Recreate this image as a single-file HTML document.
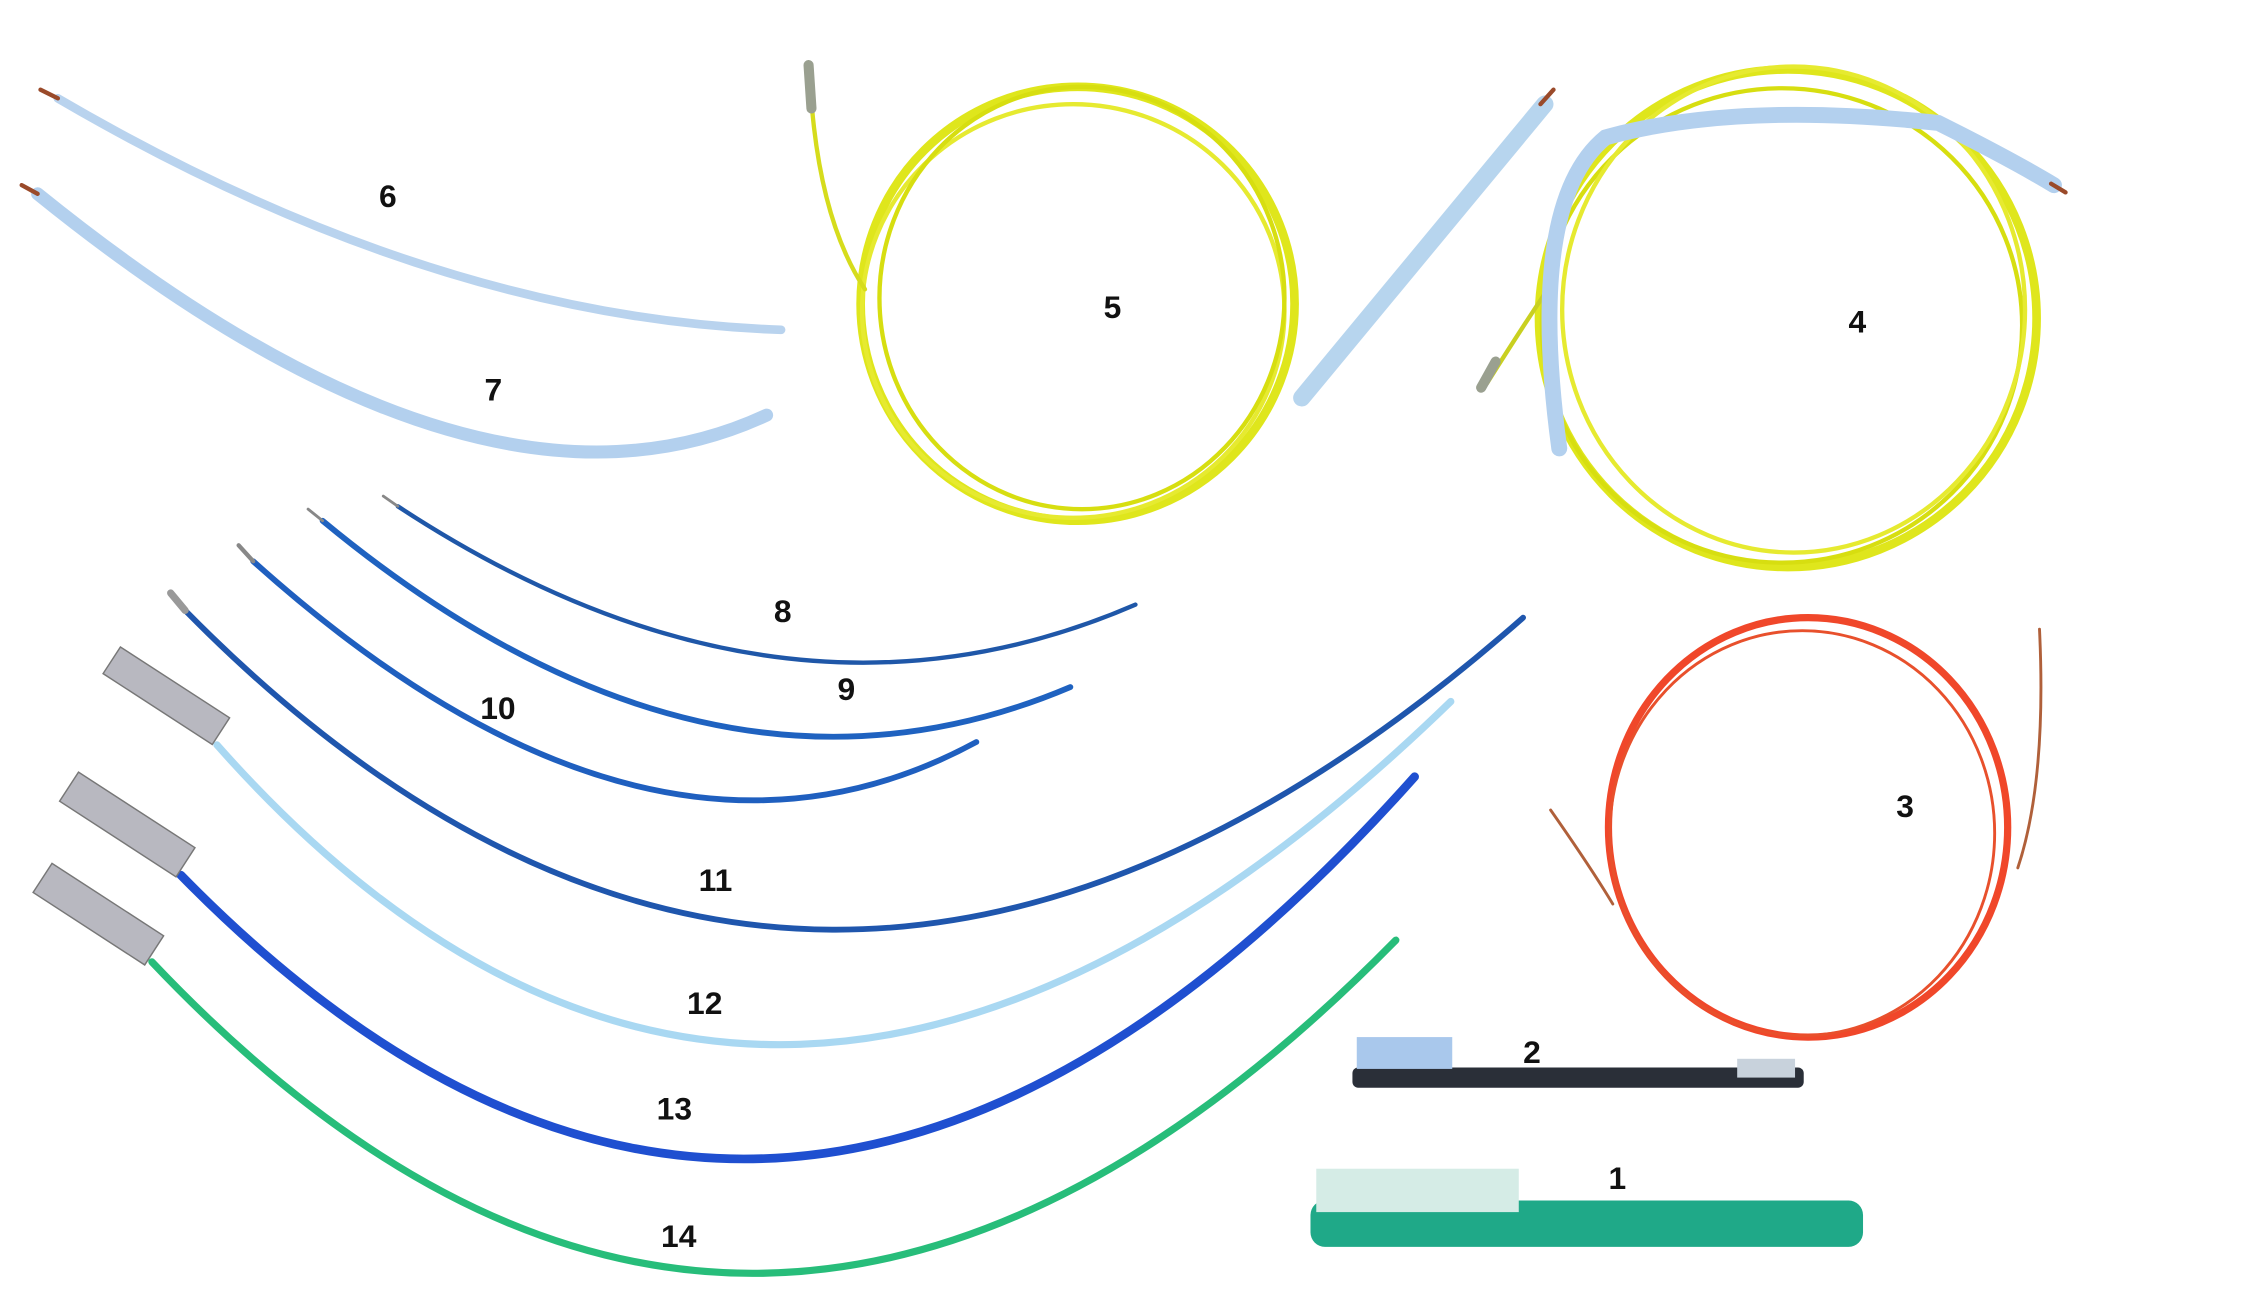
<!DOCTYPE html>
<html><head><meta charset="utf-8"><style>
html,body{margin:0;padding:0;background:#fff;}
svg{display:block;}
text{font-family:"Liberation Sans",sans-serif;font-weight:bold;font-size:22px;fill:#111;}
</style></head><body>
<svg width="2242" height="1296" viewBox="0 0 1550 896" preserveAspectRatio="none" xmlns="http://www.w3.org/2000/svg">
<rect width="1550" height="896" fill="#fff"/>
<g fill="none" stroke-linecap="round">
<!-- 6 & 7 -->
<path d="M40,68 Q300,220 540,228" stroke="#b9d3ee" stroke-width="6"/>
<path d="M28,62 L40,68" stroke="#9a4a2a" stroke-width="3"/>
<path d="M26,134 Q330,380 530,287" stroke="#b3d0ee" stroke-width="9"/>
<path d="M15,128 L26,134" stroke="#9a4a2a" stroke-width="3"/>
<!-- 5 -->
<ellipse cx="745" cy="210" rx="150" ry="150" stroke="#dfe61c" stroke-width="6"/>
<ellipse cx="742" cy="215" rx="146" ry="143" stroke="#e6ea30" stroke-width="3"/>
<ellipse cx="748" cy="206" rx="140" ry="146" stroke="#d7de10" stroke-width="3"/>
<path d="M560,55 Q565,150 598,200" stroke="#d6dc1c" stroke-width="3"/>
<path d="M559,45 L561,75" stroke="#9aa090" stroke-width="7"/>
<path d="M900,275 L1068,72" stroke="#b7d5ee" stroke-width="12"/>
<path d="M1065,72 L1074,62" stroke="#9a4a2a" stroke-width="3"/>
<!-- 4 -->
<ellipse cx="1236" cy="220" rx="172" ry="172" stroke="#dfe61c" stroke-width="6"/>
<ellipse cx="1232" cy="225" rx="166" ry="164" stroke="#d7de10" stroke-width="3"/>
<ellipse cx="1240" cy="214" rx="160" ry="168" stroke="#e6ea30" stroke-width="3"/>
<path d="M1028,265 Q1050,230 1070,200" stroke="#c9d020" stroke-width="3"/>
<path d="M1024,268 L1034,250" stroke="#9aa090" stroke-width="7"/>
<path d="M1078,310 Q1055,140 1110,95 Q1200,70 1340,85 Q1390,110 1420,128" stroke="#b3d0ee" stroke-width="11"/>
<path d="M1418,127 L1428,133" stroke="#9a4a2a" stroke-width="3"/>
<!-- 3 -->
<ellipse cx="1250" cy="572" rx="138" ry="145" stroke="#f0472a" stroke-width="5"/>
<ellipse cx="1246" cy="576" rx="133" ry="140" stroke="#e8502c" stroke-width="2"/>
<path d="M1072,560 Q1100,600 1115,625" stroke="#b0603a" stroke-width="2"/>
<path d="M1410,435 Q1415,540 1395,600" stroke="#b0603a" stroke-width="2"/>
<!-- 8,9,10 -->
<path d="M275,350 Q540,524 785,418" stroke="#1f57a8" stroke-width="3"/>
<path d="M265,343 L275,350" stroke="#888" stroke-width="2"/>
<path d="M223,360 Q490,581 740,475" stroke="#1f62c0" stroke-width="4"/>
<path d="M213,352 L223,360" stroke="#888" stroke-width="2"/>
<path d="M175,388 Q450,635 675,513" stroke="#1f5fbf" stroke-width="4"/>
<path d="M165,377 L175,388" stroke="#888" stroke-width="3"/>
<!-- 11 -->
<path d="M128,422 Q560,861 1053,427" stroke="#1f56ad" stroke-width="4"/>
<path d="M118,410 L128,422" stroke="#999" stroke-width="5"/>
<!-- 12,13,14 -->
<path d="M150,515 Q530,944 1003,485" stroke="#a9d8f2" stroke-width="5"/>
<path d="M125,605 Q540,1029 978,537" stroke="#1f4fd0" stroke-width="6"/>
<path d="M105,665 Q520,1103 965,650" stroke="#27bd7a" stroke-width="5"/>
</g>
<!-- brushes -->
<g stroke="#777" stroke-width="1">
<rect x="70" y="470" width="90" height="22" fill="#b8b8c0" transform="rotate(33 115 481)"/>
<rect x="40" y="558" width="96" height="24" fill="#b8b8c0" transform="rotate(33 88 570)"/>
<rect x="22" y="620" width="92" height="24" fill="#b8b8c0" transform="rotate(33 68 632)"/>
</g>
<!-- toothbrush 2 -->
<rect x="935" y="738" width="312" height="14" rx="4" fill="#2a2f38"/>
<rect x="938" y="717" width="66" height="22" fill="#a9c8ec"/>
<rect x="1201" y="732" width="40" height="13" fill="#c8d2dc"/>
<!-- toothbrush 1 -->
<rect x="906" y="830" width="382" height="32" rx="10" fill="#1fa988"/>
<rect x="910" y="808" width="140" height="30" fill="#d5ece6"/>
<text x="262" y="143">6</text>
<text x="335" y="277">7</text>
<text x="763" y="220">5</text>
<text x="1278" y="230">4</text>
<text x="535" y="430">8</text>
<text x="579" y="484">9</text>
<text x="332" y="497">10</text>
<text x="1311" y="565">3</text>
<text x="483" y="616">11</text>
<text x="475" y="701">12</text>
<text x="1053" y="735">2</text>
<text x="454" y="774">13</text>
<text x="1112" y="822">1</text>
<text x="457" y="862">14</text>
</svg>
</body></html>
